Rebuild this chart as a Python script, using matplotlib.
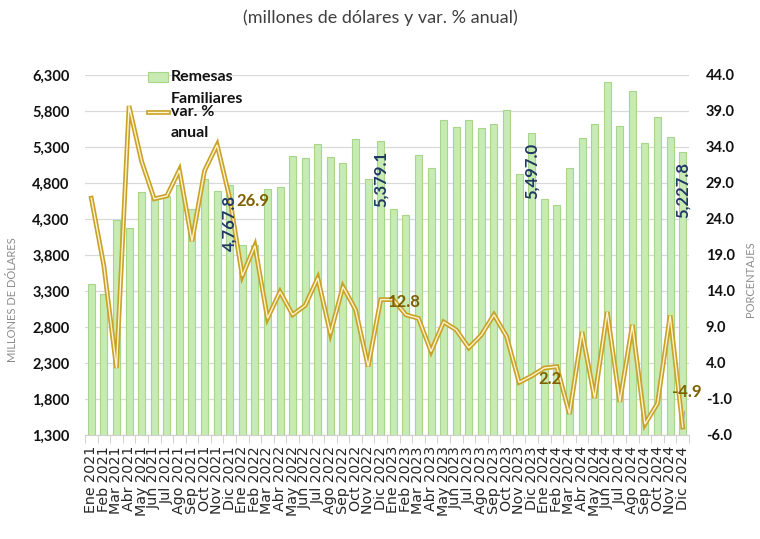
import matplotlib
matplotlib.use("Agg")
import matplotlib.pyplot as plt
from matplotlib.ticker import FuncFormatter, FixedLocator
from matplotlib.patches import Rectangle
from matplotlib.lines import Line2D

plt.rcParams['font.family'] = ['Lato', 'DejaVu Sans']

months = ['Ene', 'Feb', 'Mar', 'Abr', 'May', 'Jun', 'Jul', 'Ago', 'Sep', 'Oct', 'Nov', 'Dic']
years = ['2021', '2022', '2023', '2024']
tick_labels = [f"{m} {y}" for y in years for m in months]

remesas = [3397, 3258, 4281, 4170, 4680, 4606, 4615, 4772, 4434, 4851, 4689, 4767.8,
           3934, 3934, 4717, 4749, 5175, 5147, 5342, 5161, 5073, 5406, 4856, 5379.1,
           4434, 4351, 5189, 5004, 5675, 5582, 5670, 5564, 5615, 5819, 4920, 5497.0,
           4578, 4494, 5008, 5420, 5624, 6207, 5587, 6082, 5356, 5721, 5434, 5227.8]

var_anual = [26.9, 17.5, 3.3, 39.7, 32.0, 26.8, 27.2, 30.8, 20.9, 30.7, 34.3, 26.9,
             16.1, 20.3, 10.2, 13.9, 10.7, 12.0, 15.8, 8.1, 14.6, 11.4, 3.5, 12.8,
             12.8, 10.7, 10.2, 5.6, 9.7, 8.6, 6.1, 7.9, 10.7, 7.7, 1.3, 2.2,
             3.3, 3.5, -3.1, 8.3, -0.9, 11.1, -1.4, 9.3, -4.5, -1.6, 10.6, -4.9]

label_idx = [11, 23, 35, 47]

W, H = 760, 539
fig = plt.figure(figsize=(W / 100, H / 100), dpi=100)
ax = fig.add_axes([85 / W, 1 - 435 / H, 604 / W, 360 / H])
ax2 = ax.twinx()

x = list(range(len(remesas)))
ax.bar(x, remesas, width=0.55, color='#C7EBB3', edgecolor='#A6D68A', linewidth=0.8, zorder=2)

ax.set_xlim(-0.5, len(x) - 0.5)
ax.set_ylim(1300, 6300)
ax.set_yticks(range(1300, 6301, 500))
ax.yaxis.set_major_formatter(FuncFormatter(lambda v, p: f"{int(v):,}"))
ax.grid(axis='y', color='#D9D9D9', linewidth=0.9)
ax.set_axisbelow(True)

ax2.set_ylim(-6, 44)
ax2.set_yticks(range(-6, 45, 5))
ax2.yaxis.set_major_formatter(FuncFormatter(lambda v, p: f"{v:.1f}"))

for s in ['top', 'left', 'right']:
    ax.spines[s].set_visible(False)
for s in ['top', 'left', 'right', 'bottom']:
    ax2.spines[s].set_visible(False)
ax.spines['bottom'].set_color('#D0D0D0')

ax.set_xticks(x)
ax.set_xticklabels(tick_labels, rotation=90, fontsize=10.3, color='#262626', family='DejaVu Sans')
ax.xaxis.set_minor_locator(FixedLocator([i - 0.5 for i in range(len(x) + 1)]))
ax.tick_params(axis='x', which='major', length=0, pad=8)
ax.tick_params(axis='x', which='minor', length=6, color='#C8C8C8')

ax.tick_params(axis='y', length=0, pad=11)
ax2.tick_params(axis='y', length=0, pad=12)
for t in ax.get_yticklabels() + ax2.get_yticklabels():
    t.set_fontweight('bold')
    t.set_fontsize(10.5)
    t.set_color('#111111')

# line (double style)
ax2.plot(x, var_anual, color='#C9A227', linewidth=3.4, zorder=3, solid_joinstyle='miter')
ax2.plot(x, var_anual, color='#FFF4D2', linewidth=1.0, zorder=4, solid_joinstyle='miter')

# bar labels (drawn on ax2 so they sit above the line)
for i in label_idx:
    ax2.annotate(f"{remesas[i]:,.1f}", xy=(x[i], remesas[i]), xycoords=ax.transData,
                 xytext=(0, -7), textcoords='offset points', rotation=90,
                 ha='center', va='top', fontsize=12, fontweight='bold', color='#1F3864', zorder=6)

# line labels
for i in label_idx[:3]:
    ax2.annotate(f"{var_anual[i]:.1f}", xy=(x[i], var_anual[i]), xytext=(5, -2),
                 textcoords='offset points', ha='left', va='center',
                 fontsize=12, fontweight='bold', color='#7F6000', zorder=6)
i = label_idx[3]
ax2.annotate(f"{var_anual[i]:.1f}", xy=(x[i], var_anual[i]), xytext=(3, 25),
             textcoords='offset points', ha='center', va='center',
             fontsize=12, fontweight='bold', color='#7F6000', zorder=6,
             arrowprops=dict(arrowstyle='-', color='#A6A6A6', lw=0.8, shrinkA=6, shrinkB=6))

# axis titles
ax.set_ylabel('MILLONES DE DÓLARES', fontsize=8, color='#8C8C8C')
ax.yaxis.set_label_coords((18 - 85) / 604, (435 - 300) / 360)
ax2.set_ylabel('PORCENTAJES', fontsize=8, color='#8C8C8C', rotation=90)
ax2.yaxis.set_label_coords((745 - 85) / 604, (435 - 279) / 360)

# title
fig.text(380 / W, 1 - 18 / H, '(millones de dólares y var. % anual)', ha='center', va='center',
         fontsize=13, color='#404040')

# legend (manual)
def fx(px):
    return px / W

def fy(py):
    return 1 - py / H

fig.patches.append(Rectangle((fx(148), fy(82)), 20 / W, 10 / H, transform=fig.transFigure,
                             facecolor='#C7EBB3', edgecolor='#A6D68A', linewidth=0.8, zorder=10))
fig.lines.append(Line2D([fx(148), fx(168)], [fy(112), fy(112)], transform=fig.transFigure,
                        color='#C9A227', linewidth=3.4, zorder=10))
fig.lines.append(Line2D([fx(148), fx(168)], [fy(112), fy(112)], transform=fig.transFigure,
                        color='#FFF4D2', linewidth=1.0, zorder=11))
for txt, py in [('Remesas', 77), ('Familiares', 99), ('var. %', 112), ('anual', 133)]:
    fig.text(fx(171), fy(py), txt, ha='left', va='center', fontsize=11.5,
             fontweight='bold', color='#111111', zorder=12)

fig.savefig('out.png', dpi=100, facecolor='white')
